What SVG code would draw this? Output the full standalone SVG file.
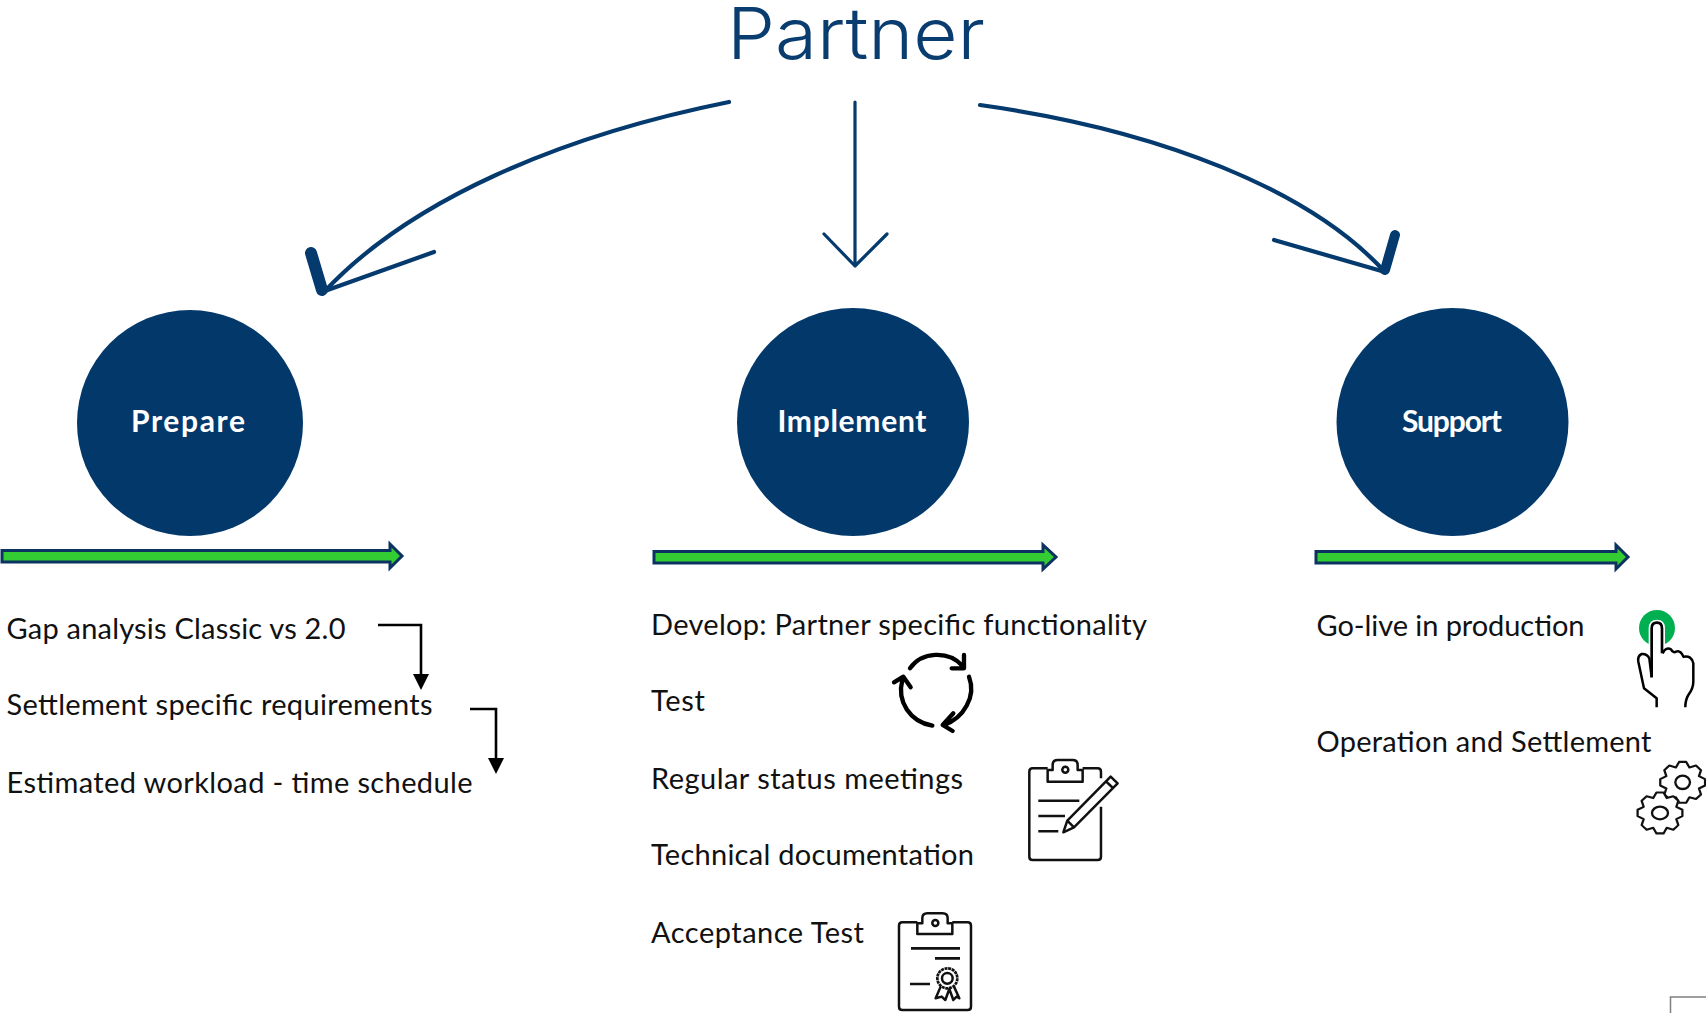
<svg xmlns="http://www.w3.org/2000/svg" width="1706" height="1013" viewBox="0 0 1706 1013">
<style>
text{font-family:"Lato","Liberation Sans",sans-serif}
.t{font-size:29px;fill:#111}
.c{font-size:30px;font-weight:700;fill:#fff;text-anchor:middle}
.node{fill:#03386b}
.g{fill:#33cc33;stroke:#0b3260;stroke-width:3}
.a{fill:none;stroke:#053a6e;stroke-width:4.200;stroke-linecap:round;stroke-linejoin:round}
.e{fill:none;stroke:#000;stroke-width:2.600}
.i{fill:none;stroke:#000;stroke-width:13;stroke-linecap:round;stroke-linejoin:round}
.ic{fill:none;stroke:#111;stroke-width:7.500;stroke-linejoin:round}
</style>
<defs>
<path id="gear" d="M9.88-1.56 9.88 1.56 7.2 2.98 8.09 5.88 5.88 8.09 2.98 7.2 1.56 9.88-1.56 9.88-2.98 7.2-5.88 8.09-8.09 5.88-7.2 2.98-9.88 1.56-9.88-1.56-7.2-2.98-8.09-5.88-5.88-8.09-2.98-7.2-1.56-9.88 1.56-9.88 2.98-7.2 5.88-8.09 8.09-5.88 7.2-2.98Z"/>
</defs>
<g id="title"><text x="727" y="59" font-size="71" font-weight="300" fill="#0a3d6f" style="font-family:Inter,'Liberation Sans',sans-serif" textLength="258" lengthAdjust="spacingAndGlyphs">Partner</text></g>
<g id="connectors">
<path class="a" d="M729 102C560 136 410 200 324 292"/>
<path class="a" d="M434 252 322 292"/>
<path d="M311 253 322 290" fill="none" stroke="#053a6e" stroke-width="12" stroke-linecap="round"/>
<path class="a" d="M855 102V266M824 234 855 266 887 234" style="stroke-width:3.200"/>
<path class="a" d="M980 105C1160 130 1310 190 1385 272"/>
<path class="a" d="M1274 240 1385 272"/>
<path d="M1395 235 1385 270" fill="none" stroke="#053a6e" stroke-width="10" stroke-linecap="round"/>
<path class="e" d="M378 625H421V676"/>
<path d="M413 674H429L421 690Z"/>
<path class="e" d="M470 709H496V760"/>
<path d="M488 758H504L496 774Z"/>
</g>
<g id="prepare"><circle class="node" cx="190" cy="423" r="113"/><text class="c" x="188" y="432" textLength="114">Prepare</text></g>
<g id="implement"><ellipse class="node" cx="853" cy="422" rx="116" ry="114"/><text class="c" x="852" y="432" textLength="149">Implement</text></g>
<g id="support"><ellipse class="node" cx="1452.500" cy="422" rx="116" ry="114"/><text class="c" x="1452" y="432" textLength="100">Support</text></g>
<g id="bars">
<path class="g" d="M2 550.500H390V544L402 556 390 568V562H2Z"/>
<path class="g" d="M654 551.500H1043V545L1056 557 1043 569V563H654Z"/>
<path class="g" d="M1316 551.500H1616V545L1628 557 1616 569V563H1316Z"/>
</g>
<g id="prepare-list">
<text class="t" x="6.500" y="639" textLength="339">Gap analysis Classic vs 2.0</text>
<text class="t" x="6.500" y="715" textLength="426">Settlement specific requirements</text>
<text class="t" x="6.500" y="793" textLength="466">Estimated workload - time schedule</text>
</g>
<g id="implement-list">
<text class="t" x="651" y="635" textLength="496">Develop: Partner specific functionality</text>
<text class="t" x="651" y="711" textLength="54">Test</text>
<text class="t" x="651" y="789" textLength="312">Regular status meetings</text>
<text class="t" x="651" y="865" textLength="323">Technical documentation</text>
<text class="t" x="651" y="943" textLength="213">Acceptance Test</text>
</g>
<g id="support-list">
<text class="t" x="1316.500" y="636" textLength="268">Go-live in production</text>
<text class="t" x="1316.500" y="752" textLength="335">Operation and Settlement</text>
</g>
<g id="icons-mid" transform="translate(870 630) scale(.3333)">
<g id="cycle" class="i">
<path d="M120 115C155 65 235 60 278 108M282 75V115H245"/>
<path d="M297 140C320 200 280 265 222 285M250 250 218 285 248 303"/>
<path d="M187 287C120 275 80 215 97 150M72 157 100 140 122 172"/>
</g>
<g id="clip-pencil" class="ic">
<path d="M693 530V680Q693 690 683 690H488Q478 690 478 680V425Q478 415 488 415H533M638 415H683Q693 415 693 425V445"/>
<path d="M533 455V420H548V405Q548 390 563 390H608Q623 390 623 405V420H638V455Z"/>
<circle cx="586" cy="419" r="9"/>
<path d="M505 512H628M505 558H585M505 604H565"/>
<path d="M580 607 592 572 722 440 743 460 612 592ZM592 572 612 592M708 454 729 474"/>
</g>
<g id="clip-cert" class="ic">
<path d="M303 1130Q303 1140 293 1140H97Q87 1140 87 1130V887Q87 877 97 877H142M247 877H293Q303 877 303 887V1130"/>
<path d="M142 912V880H157V865Q157 850 172 850H218Q233 850 233 865V880H247V912Z"/>
<circle cx="196" cy="879" r="9"/>
<path d="M123 955H270M195 985H270M120 1062H180" style="stroke-width:8"/>
<circle cx="232" cy="1045" r="30" stroke-dasharray="9 2" style="stroke-width:8"/>
<circle cx="232" cy="1045" r="16"/>
<path d="M212 1070 197 1105 215 1100 226 1110 238 1077 250 1110 260 1100 268 1105 252 1070"/>
</g>
</g>
<g id="icons-right" transform="translate(1590 590) scale(.3333)">
<circle cx="201" cy="114" r="54" fill="#00b050"/>
<path d="M185 262V115Q185 98 201 98 216 98 216 115V190Z" fill="#fff" stroke="#fff" stroke-width="18"/>
<path d="M185 262V115Q185 98 201 98 216 98 216 115V190" fill="#fff" stroke="#000" stroke-width="8"/>
<path d="M185 262 178 205Q170 190 155 192 142 198 145 215L162 295 200 325V352M218 190Q228 170 243 178 250 190 258 185 272 180 280 200 305 195 310 220V275Q310 295 295 315 286 330 286 352" fill="none" stroke="#000" stroke-width="7.500" stroke-linejoin="round"/>
<g id="gears" fill="#fff" stroke="#111" stroke-linejoin="round">
<use href="#gear" transform="translate(278 577) scale(6.800 6.200)" stroke-width="1"/>
<ellipse cx="278" cy="577" rx="22" ry="20" fill="none" stroke-width="7"/>
<use href="#gear" transform="translate(210 669) scale(6.800 6.200)" stroke-width="1"/>
<ellipse cx="210" cy="669" rx="24" ry="19" fill="none" stroke-width="7"/>
</g>
</g>
<g id="corner"><path d="M1706 997H1670.500V1013" fill="none" stroke="#808080" stroke-width="1.500"/></g>
</svg>
